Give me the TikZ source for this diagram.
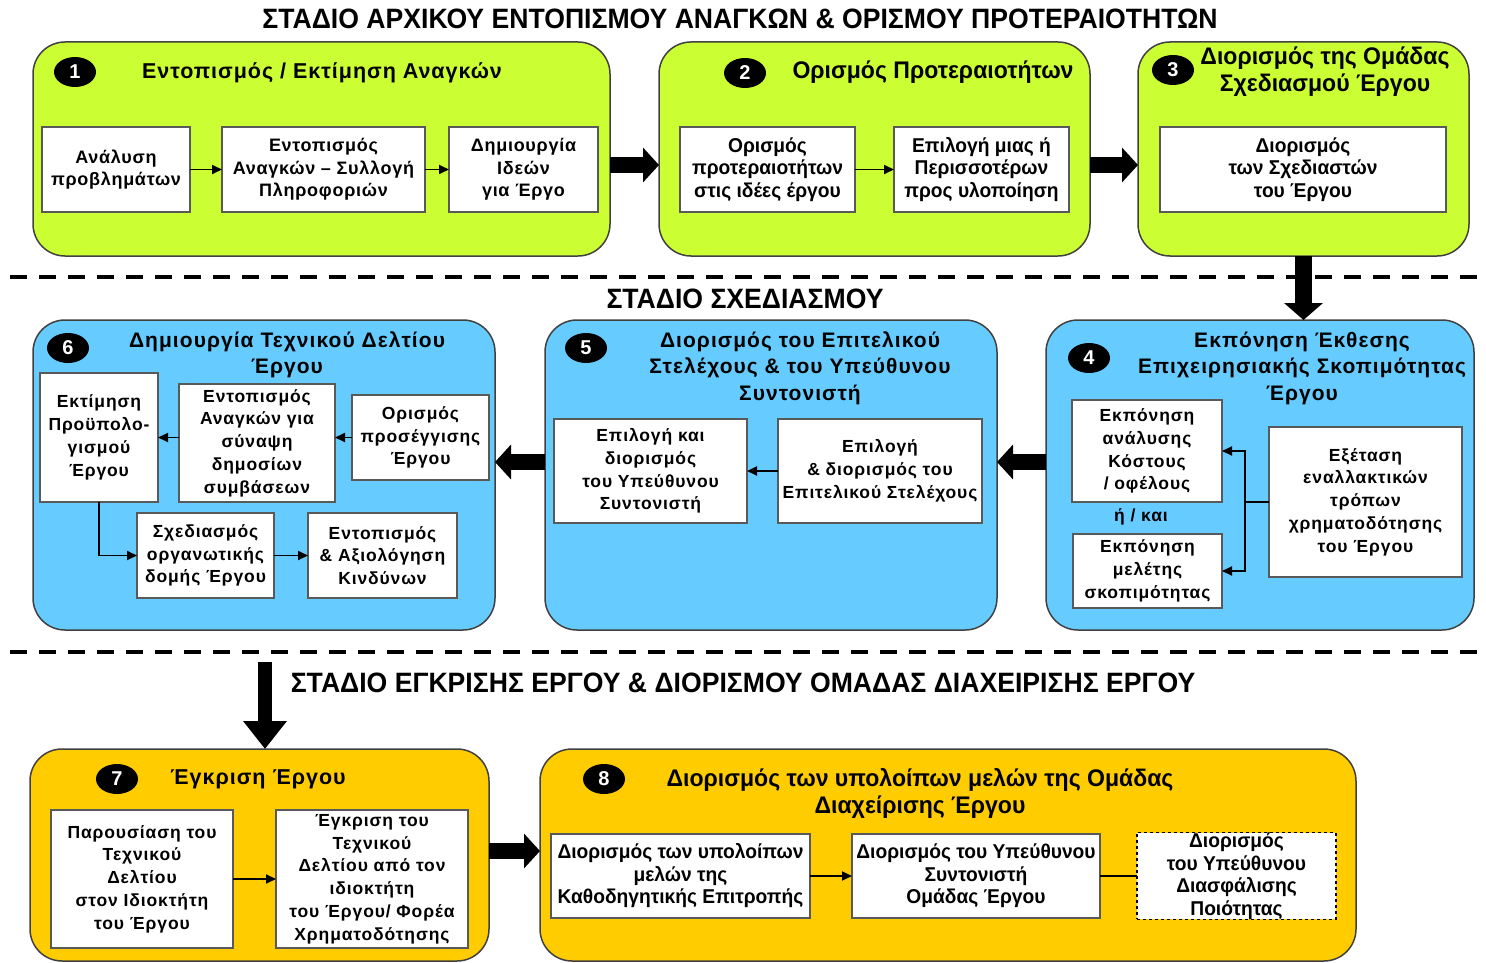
\documentclass[tikz,border=0pt]{standalone}
\usepackage{fontspec}
\setmainfont{Liberation Sans}
\newfontfamily\hdrf{Liberation Sans}[FakeStretch=0.95]
\newfontfamily\nar{Liberation Sans}[FakeStretch=0.96]
\newfontfamily\spc{Liberation Sans}[LetterSpace=5]
\newfontfamily\spa{Liberation Sans}[LetterSpace=4]
\newfontfamily\spt{Liberation Sans}[LetterSpace=4.5]
\usetikzlibrary{arrows.meta,shapes.geometric}
\definecolor{pgreen}{RGB}{204,255,51}
\definecolor{pblue}{RGB}{102,204,255}
\definecolor{pyellow}{RGB}{255,204,0}
\tikzset{
  panel/.style={draw=black!75, line width=1.5pt, rounded corners=32pt, inner sep=0pt, outer sep=0pt},
  box/.style={draw=black!65, fill=white, line width=1.3pt, inner sep=0pt, outer sep=0pt, align=center},
  badge/.style={ellipse, fill=black, minimum width=42pt, minimum height=30pt, inner sep=0pt, text=white, font=\bfseries\fontsize{20}{20}\selectfont},
  ttl/.style={align=center, inner sep=0pt},
  arr/.style={line width=1.8pt, -{Triangle[length=10pt,width=9pt]}},
  bigarr/.style={line width=16pt, -{Triangle[length=16pt,width=34pt]}},
  dashline/.style={line width=4pt, dash pattern=on 17pt off 12pt},
  fr/.style={font=\spa\bfseries\fontsize{18}{22.5}\selectfont},
  fn/.style={font=\nar\bfseries\fontsize{20}{22.5}\selectfont},
  fs/.style={font=\spc\bfseries\fontsize{17.5}{22.8}\selectfont},
  tr/.style={font=\spt\bfseries\fontsize{21.5}{27}\selectfont},
  tn/.style={font=\nar\bfseries\fontsize{24}{27}\selectfont},
  ts/.style={font=\spc\bfseries\fontsize{21}{26.5}\selectfont},
  hdr/.style={font=\hdrf\bfseries\fontsize{28}{30}\selectfont, inner sep=0pt}
}
\begin{document}
\begin{tikzpicture}[x=1pt,y=-1pt]
\useasboundingbox (0,0) rectangle (1486,963);
% headers
\node[hdr] (h1) at (740,19) {ΣΤΑΔΙΟ ΑΡΧΙΚΟΥ ΕΝΤΟΠΙΣΜΟΥ ΑΝΑΓΚΩΝ \& ΟΡΙΣΜΟΥ ΠΡΟΤΕΡΑΙΟΤΗΤΩΝ};
\node[hdr] (h2) at (745,299) {ΣΤΑΔΙΟ ΣΧΕΔΙΑΣΜΟΥ};
\node[hdr] (h3) at (743,683) {ΣΤΑΔΙΟ ΕΓΚΡΙΣΗΣ ΕΡΓΟΥ \& ΔΙΟΡΙΣΜΟΥ ΟΜΑΔΑΣ ΔΙΑΧΕΙΡΙΣΗΣ ΕΡΓΟΥ};
% dashed lines
\coordinate (d1a) at (10,277); \coordinate (d1b) at (1482,277);
\coordinate (d2a) at (10,652); \coordinate (d2b) at (1482,652);
\draw[dashline] (d1a) -- (d1b);
\draw[dashline] (d2a) -- (d2b);

% ===== panels row 1
\node[panel, fill=pgreen, minimum width=577pt, minimum height=214pt] (p1) at (321.5,149) {};
\node[panel, fill=pgreen, minimum width=431pt, minimum height=214pt] (p2) at (874.5,149) {};
\node[panel, fill=pgreen, minimum width=331pt, minimum height=214pt] (p3) at (1303.5,149) {};
% row 2
\node[panel, fill=pblue, minimum width=462pt, minimum height=310pt] (p6) at (264,475) {};
\node[panel, fill=pblue, minimum width=452pt, minimum height=310pt] (p5) at (771,475) {};
\node[panel, fill=pblue, minimum width=428pt, minimum height=310pt] (p4) at (1260,475) {};
% row 3
\node[panel, fill=pyellow, minimum width=459pt, minimum height=212pt] (p7) at (259.5,855) {};
\node[panel, fill=pyellow, minimum width=816pt, minimum height=212pt] (p8) at (948,855) {};

% ===== panel 1
\node[badge] (b1) at (75,72) {1};
\node[ttl, tr] (t1) at (322,73) {Εντοπισμός / Εκτίμηση Αναγκών};
\node[box, fr, minimum width=148pt, minimum height=85pt] (a1) at (116,169.5) {Ανάλυση\\προβλημάτων};
\node[box, fr, minimum width=203pt, minimum height=85pt] (a2) at (323.5,169.5) {Εντοπισμός\\Αναγκών – Συλλογή\\Πληροφοριών};
\node[box, fr, minimum width=149pt, minimum height=85pt] (a3) at (523.5,169.5) {Δημιουργία\\Ιδεών\\για Έργο};
\draw[arr] (a1) -- (a2);
\draw[arr] (a2) -- (a3);

% ===== panel 2
\node[badge] (b2) at (745,73) {2};
\node[ttl, tn] (t2) at (933,72) {Ορισμός Προτεραιοτήτων};
\node[box, fn, minimum width=175pt, minimum height=85pt] (c1) at (767.5,169.5) {Ορισμός\\προτεραιοτήτων\\στις ιδέες έργου};
\node[box, fn, minimum width=175pt, minimum height=85pt] (c2) at (981.5,169.5) {Επιλογή μιας ή\\Περισσοτέρων\\προς υλοποίηση};
\draw[arr] (c1) -- (c2);

% ===== panel 3
\node[badge] (b3) at (1173,70) {3};
\node[ttl, tn] (t3) at (1325,72) {Διορισμός της Ομάδας\\Σχεδιασμού Έργου};
\node[box, fn, minimum width=286pt, minimum height=85pt] (e1) at (1303,169.5) {Διορισμός\\των Σχεδιαστών\\του Έργου};

% big arrows row 1
\draw[bigarr] ([yshift=-16pt]p1.east) -- ([yshift=-16pt]p2.west);
\draw[bigarr] ([yshift=-16pt]p2.east) -- ([yshift=-16pt]p3.west);
\draw[line width=17pt, -{Triangle[length=17pt,width=38pt]}] (p3.south) -- (p4.north -| p3.south);

% ===== panel 6
\node[badge] (b6) at (68,348) {6};
\node[ttl, ts] (t6) at (287,355) {Δημιουργία Τεχνικού Δελτίου\\Έργου};
\node[box, fs, minimum width=118pt, minimum height=129pt] (f1) at (99,437.5) {Εκτίμηση\\Προϋπολο-\\γισμού\\Έργου};
\node[box, fs, minimum width=156pt, minimum height=118pt] (f2) at (257,443) {Εντοπισμός\\Αναγκών για\\σύναψη\\δημοσίων\\συμβάσεων};
\node[box, fs, minimum width=137pt, minimum height=85pt] (f3) at (420.5,437.5) {Ορισμός\\προσέγγισης\\Έργου};
\node[box, fs, minimum width=137pt, minimum height=85pt] (f4) at (205.5,555.5) {Σχεδιασμός\\οργανωτικής\\δομής Έργου};
\node[box, fs, minimum width=149pt, minimum height=85pt] (f5) at (382.5,555.5) {Εντοπισμός\\\& Αξιολόγηση\\Κινδύνων};
\draw[arr] (f3.west) -- (f2.east |- f3.west);
\draw[arr] (f2.west |- f1.east) -- (f1.east);
\draw[arr] (f1.south) |- (f4.west);
\draw[arr] (f4) -- (f5);

% ===== panel 5
\node[badge] (b5) at (586,348) {5};
\node[ttl, ts] (t5) at (800,368) {Διορισμός του Επιτελικού\\Στελέχους \& του Υπεύθυνου\\Συντονιστή};
\node[box, fs, minimum width=193pt, minimum height=104pt] (g1) at (650.5,471) {Επιλογή και\\διορισμός\\του Υπεύθυνου\\Συντονιστή};
\node[box, fs, minimum width=204pt, minimum height=104pt] (g2) at (880,471) {Επιλογή\\\& διορισμός του\\Επιτελικού Στελέχους};
\draw[arr] (g2) -- (g1);

% ===== panel 4
\node[badge] (b4) at (1089,358) {4};
\node[ttl, ts] (t4) at (1302,368) {Εκπόνηση Έκθεσης\\Επιχειρησιακής Σκοπιμότητας\\Έργου};
\node[box, fs, minimum width=150pt, minimum height=102pt] (k1) at (1147,451) {Εκπόνηση\\ανάλυσης\\Κόστους\\/ οφέλους};
\node[ttl, fs] (k0) at (1141,517) {ή / και};
\node[box, fs, minimum width=149pt, minimum height=74pt] (k2) at (1147.5,571) {Εκπόνηση\\μελέτης\\σκοπιμότητας};
\node[box, fs, minimum width=193pt, minimum height=150pt] (k3) at (1365.5,502) {Εξέταση\\εναλλακτικών\\τρόπων\\χρηματοδότησης\\του Έργου};
\draw[line width=1.8pt] (k3.west) -- ++(-24,0) coordinate (kj);
\draw[arr] (kj) |- (k1.east);
\draw[arr] (kj) |- (k2.east);

% big arrows row 2
\draw[bigarr] ([yshift=13pt]p4.west) -- ([yshift=13pt]p5.east);
\draw[bigarr] ([yshift=13pt]p5.west) -- ([yshift=13pt]p6.east);
\coordinate (dn) at (265,662);
\draw[line width=14pt, -{Triangle[length=28pt,width=42pt]}] (dn) -- (dn |- p7.north);

% ===== panel 7
\node[badge] (b7) at (117,779) {7};
\node[ttl, tr] (t7) at (258,779) {Έγκριση Έργου};
\node[box, fs, minimum width=182pt, minimum height=138pt] (m1) at (142,879) {Παρουσίαση του\\Τεχνικού\\Δελτίου\\στον Ιδιοκτήτη\\του Έργου};
\node[box, fs, minimum width=192pt, minimum height=138pt] (m2) at (372,879) {Έγκριση του\\Τεχνικού\\Δελτίου από τον\\ιδιοκτήτη\\του Έργου/ Φορέα\\Χρηματοδότησης};
\draw[arr] (m1) -- (m2);

\draw[bigarr] ([yshift=4pt]p7.east) -- ([yshift=4pt]p8.west);

% ===== panel 8
\node[badge] (b8) at (604,779) {8};
\node[ttl, tn] (t8) at (920,793) {Διορισμός των υπολοίπων μελών της Ομάδας\\Διαχείρισης Έργου};
\node[box, fn, minimum width=259pt, minimum height=84pt] (n1) at (680.5,876) {Διορισμός των υπολοίπων\\μελών της\\Καθοδηγητικής Επιτροπής};
\node[box, fn, minimum width=248pt, minimum height=84pt] (n2) at (976,876) {Διορισμός του Υπεύθυνου\\Συντονιστή\\Ομάδας Έργου};
\node[box, fn, dashed, draw=black, minimum width=199pt, minimum height=84pt] (n3) at (1236.5,876) {Διορισμός\\του Υπεύθυνου\\Διασφάλισης\\Ποιότητας};
\draw[arr] (n1) -- (n2);
\draw[line width=1.8pt] (n2) -- (n3);
\end{tikzpicture}
\end{document}
